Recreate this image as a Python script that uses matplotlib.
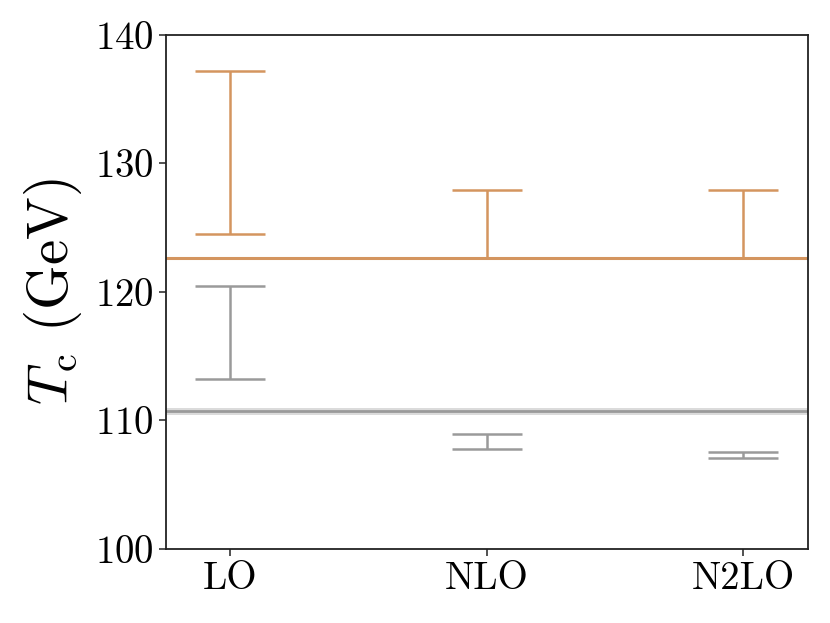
import numpy as np
import matplotlib
matplotlib.use("Agg")
import matplotlib.pyplot as plt

plt.rcParams['font.family'] = 'serif'
plt.rcParams['font.serif'] = ['cmr10', 'DejaVu Serif']
plt.rcParams['mathtext.fontset'] = 'cm'
plt.rcParams['axes.unicode_minus'] = False
plt.rcParams['axes.formatter.use_mathtext'] = True

orders = ['LO', 'NLO', 'N2LO']
# ranges (low, high) of T_c at each order
orange_low = [124.5, 122.65, 122.6]
orange_high = [137.2, 127.95, 127.9]
grey_low = [113.25, 107.8, 107.1]
grey_high = [120.45, 108.95, 107.55]
orange_ref = 122.6
grey_ref = 110.7

c_orange = '#D4955F'
c_grey = '#9A9A9A'

fig = plt.figure(figsize=(8.3, 6.23), dpi=100)
ax = fig.add_axes([0.2, 0.119, 0.773, 0.825])

x = np.arange(len(orders))

def draw_range(lo, hi, color):
	lo = np.array(lo)
	hi = np.array(hi)
	mid = (lo + hi) / 2
	ax.errorbar(x, mid, yerr=[mid - lo, hi - mid], fmt='none', ecolor=color,
			elinewidth=1.8, capsize=25, capthick=1.8)

draw_range(orange_low, orange_high, c_orange)
draw_range(grey_low, grey_high, c_grey)

ax.axhline(orange_ref, color=c_orange, lw=2.2)
ax.axhspan(grey_ref - 0.3, grey_ref + 0.3, color=c_grey, alpha=0.35, lw=0)
ax.axhline(grey_ref, color=c_grey, lw=2)

ax.set_xlim(-0.25, 2.25)
ax.set_ylim(100, 140)
ax.set_yticks([100, 110, 120, 130, 140])
ax.set_xticks(x)
ax.set_xticklabels(orders)
ax.tick_params(labelsize=28, length=5, width=1.2, color='#333333')
for s in ax.spines.values():
	s.set_linewidth(1.3)
	s.set_color('#222222')
ax.set_ylabel(r'$T_{\rm c}$ (GeV)', fontsize=41, labelpad=8)

fig.savefig('out.png', dpi=100)
